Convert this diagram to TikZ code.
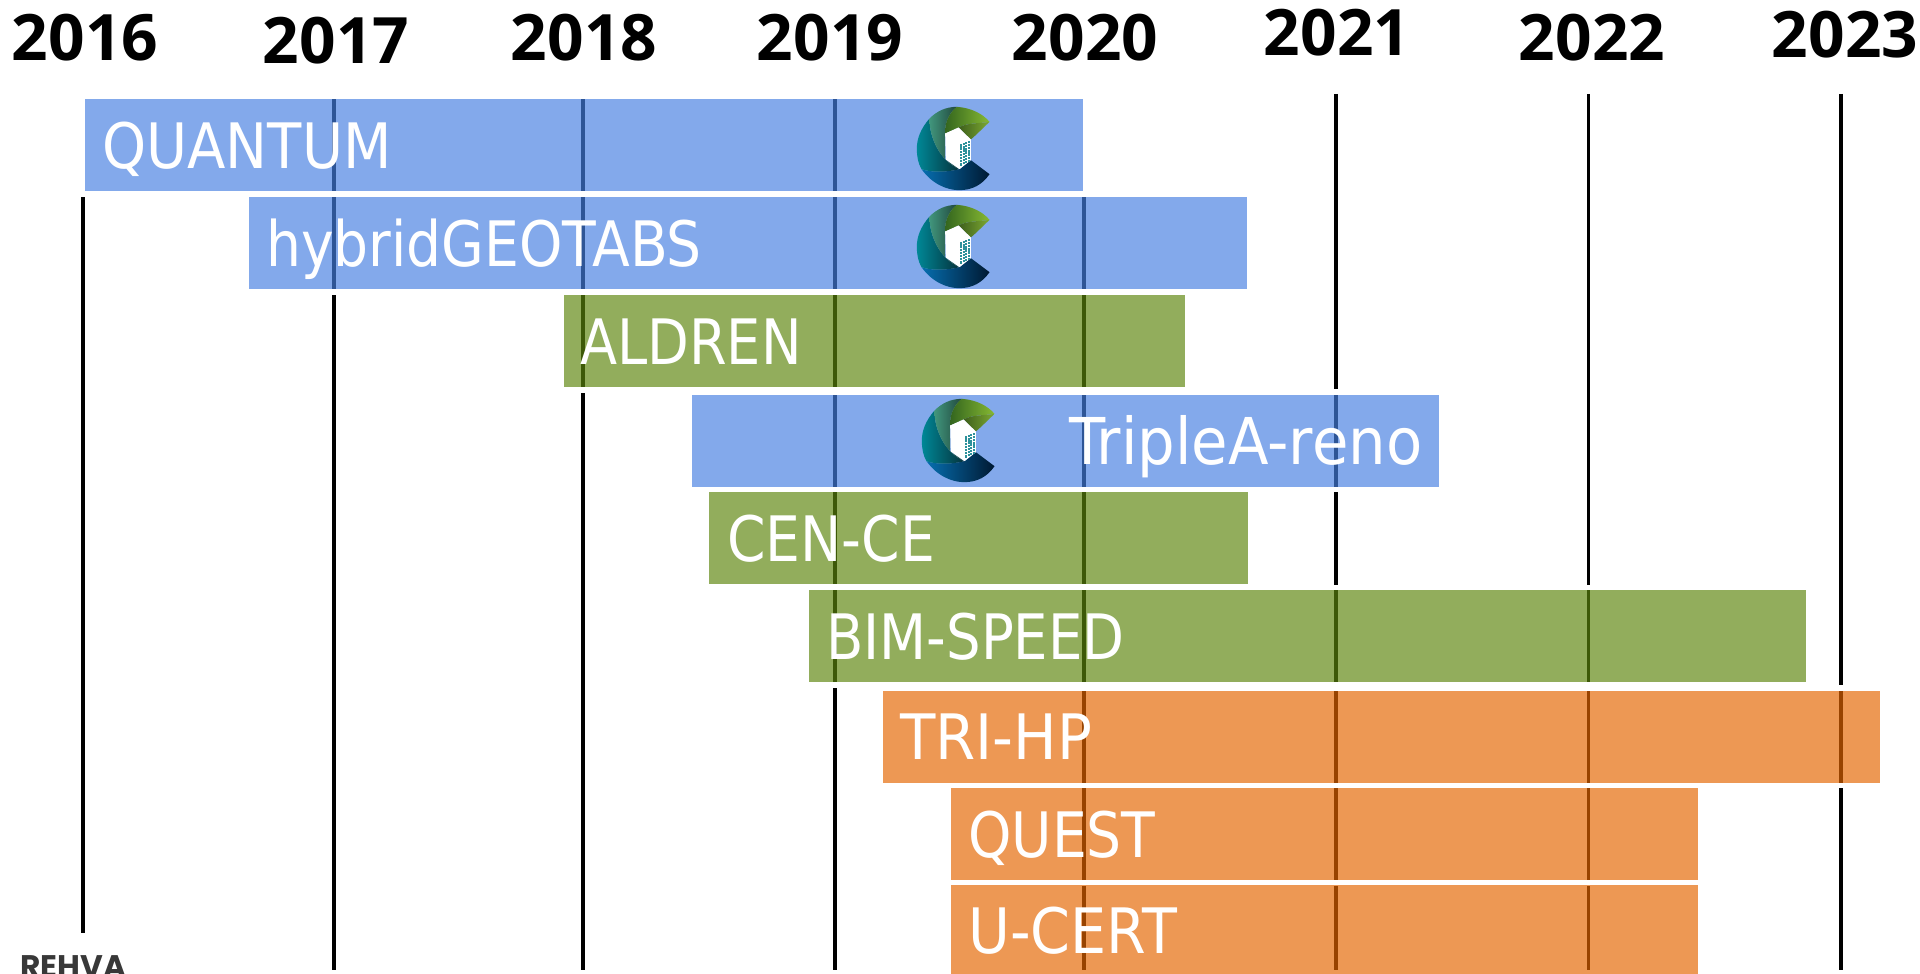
\documentclass[tikz,border=0pt]{standalone}
\usepackage{fontspec}
\setmainfont{Open Sans}
\newfontfamily\barfont[FakeStretch=0.88]{DejaVu Sans}
\newfontfamily\rehvafont{Poppins}
\definecolor{bluebar}{RGB}{70,127,225}
\definecolor{greenbar}{RGB}{92,133,12}
\definecolor{orangebar}{RGB}{228,101,0}
\definecolor{lgA}{RGB}{50,100,30}
\definecolor{lgB}{RGB}{135,185,50}
\definecolor{lhA}{RGB}{62,95,28}
\definecolor{lhB}{RGB}{125,170,50}
\definecolor{tgA}{RGB}{65,150,125}
\definecolor{tgB}{RGB}{30,65,55}
\definecolor{ttA}{RGB}{0,135,150}
\definecolor{ttB}{RGB}{5,50,60}
\definecolor{lbA}{RGB}{6,110,175}
\definecolor{lbB}{RGB}{0,25,50}
\definecolor{win}{RGB}{45,145,155}
\tikzset{
  px/.style={x=0.75pt,y=-0.75pt},
  yearline/.style={draw=black,line width=2.9pt},
  year/.style={font=\fontsize{48}{48}\selectfont\bfseries,text=black,anchor=base,inner sep=0pt},
  bar/.style={rectangle,anchor=north west,minimum height=73.1pt,inner sep=0pt,outer sep=0pt,fill opacity=.67,draw opacity=1,text opacity=1,draw=white,line width=4.1pt,fill=#1},
  barlabel/.style={font=\barfont\fontsize{47}{47}\selectfont,text=white,anchor=base west,inner sep=0pt},
  logo/.pic={
    \begin{scope}[x=0.25pt,y=-0.25pt]
      \shade[left color=lbA,right color=lbB]
        (-108,62) .. controls (-75,108) and (-30,125) .. (5,125)
        .. controls (45,125) and (75,108) .. (96,77)
        -- (40,35) -- (6,62) .. controls (-35,72) and (-80,72) .. (-108,62) -- cycle;
      \shade[left color=ttA,right color=ttB]
        (-84,-90) .. controls (-110,-60) and (-122,-30) .. (-122,0)
        .. controls (-122,25) and (-118,45) .. (-108,62)
        .. controls (-80,72) and (-35,72) .. (6,62)
        .. controls (-50,40) and (-85,-30) .. (-84,-90) -- cycle;
      \shade[left color=tgA,right color=tgB]
        (-2,-125) .. controls (-35,-125) and (-62,-112) .. (-84,-90)
        .. controls (-85,-30) and (-50,40) .. (6,62)
        -- (-37,33) -- (-37,-45) .. controls (-40,-75) and (-25,-108) .. (-2,-125) -- cycle;
      \shade[left color=lgA,right color=lgB]
        (-2,-125) .. controls (40,-122) and (75,-105) .. (96,-80)
        .. controls (70,-75) and (30,-78) .. (3,-63)
        -- (-37,-45) .. controls (-40,-75) and (-25,-108) .. (-2,-125) -- cycle;
      \shade[left color=lhA,right color=lhB]
        (96,-80) .. controls (70,-55) and (55,-40) .. (40,-27)
        -- (3,-63) .. controls (30,-78) and (70,-75) .. (96,-80) -- cycle;
      \fill[white] (-37,-45) -- (3,-63) -- (40,-27) -- (40,35) -- (6,62) -- (-35,33) -- cycle;
      \foreach \i in {0,1,2,3}{\foreach \j in {0,...,6}{
        \fill[win] ({8+\i*7.5},{-13+\j*9.5-\i*3.5}) rectangle ++(5.5,7);}}
    \end{scope}
  }
}
\begin{document}
\begin{tikzpicture}[px]
\useasboundingbox (0,0) rectangle (1920,974);
\clip (0,0) rectangle (1920,974);
\coordinate (t0) at (82.7,196); \coordinate (b0) at (82.7,933);
\coordinate (t1) at (334,99); \coordinate (b1) at (334,970);
\coordinate (t2) at (583,99); \coordinate (b2) at (583,970);
\coordinate (t3) at (835,99); \coordinate (b3) at (835,970);
\coordinate (t4) at (1084,197); \coordinate (b4) at (1084,970);
\coordinate (t5) at (1336,94); \coordinate (b5) at (1336,970);
\coordinate (t6) at (1588.5,94); \coordinate (b6) at (1588.5,970);
\coordinate (t7) at (1841,94); \coordinate (b7) at (1841,970);
\foreach \k in {0,...,7}{\draw[yearline] (t\k) -- (b\k);}
\node[year] (y16) at (85,60.5) {2016};
\node[year] (y17) at (336,63.5) {2017};
\node[year] (y18) at (584,60.5) {2018};
\node[year] (y19) at (830,60.5) {2019};
\node[year] (y20) at (1085,60.5) {2020};
\node[year] (y21) at (1337,55.5) {2021};
\node[year] (y22) at (1592,60.5) {2022};
\node[year] (y23) at (1845,58) {2023};
% visible fill = node box shrunk by half the white outline
\node[bar=bluebar,minimum width=752.6pt] (quantum) at (81.8,96.3) {};
\node[bar=bluebar,minimum width=752.6pt] (hybrid) at (245.8,194.3) {};
\node[bar=greenbar,minimum width=470.1pt] (aldren) at (561.3,292.3) {};
\node[bar=bluebar,minimum width=564.1pt] (triple) at (689.3,391.8) {};
\node[bar=greenbar,minimum width=408.1pt] (cence) at (706.3,489.3) {};
\node[bar=greenbar,minimum width=752.1pt] (bim) at (806.3,587.3) {};
\node[bar=orangebar,minimum width=752.1pt] (trihp) at (880.3,687.8) {};
\node[bar=orangebar,minimum width=564.1pt] (quest) at (948.3,785.3) {};
\node[bar=orangebar,minimum width=564.1pt] (ucert) at (948.3,882.3) {};
\node[barlabel,xscale=1.017,transform shape] (lq) at (102,168) {QUANTUM};
\node[barlabel] (lh) at (266,266) {hybridGEOTABS};
\node[barlabel,xscale=.983,transform shape] (la) at (580,364) {ALDREN};
\node[barlabel,xscale=1.075,yscale=1.03,transform shape] (lt) at (1069,464) {TripleA-reno};
\node[barlabel] (lc) at (727,561) {CEN-CE};
\node[barlabel,xscale=.988,transform shape] (lb) at (826,659) {BIM-SPEED};
\node[barlabel,xscale=1.05,transform shape] (lr) at (900,759) {TRI-HP};
\node[barlabel] (lu) at (968,857) {QUEST};
\node[barlabel,xscale=1.036,transform shape] (lv) at (968,953) {U-CERT};
\node[font=\rehvafont\fontsize{23.4}{23.4}\selectfont\bfseries,text=black!78,anchor=base west,inner sep=0pt] (rehva) at (20,977) {REHVA};
\pic at (957.5,148.5) {logo};
\pic at (957.5,246.5) {logo};
\pic at (962.5,440.5) {logo};
\end{tikzpicture}
\end{document}
